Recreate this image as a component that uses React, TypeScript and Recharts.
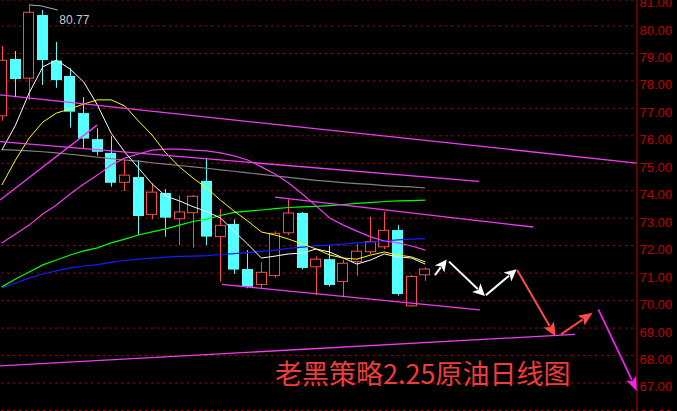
import React from 'react';
import { ComposedChart, Bar, Line, XAxis, YAxis, CartesianGrid, ReferenceLine } from 'recharts';

// ---- candle data (daily) ----
const opens = [76.73, 78.80, 78.10, 80.40, 78.74, 78.18, 76.83, 75.88, 75.38, 74.31, 74.50, 73.14, 73.92, 72.98, 73.20, 74.36, 72.33, 72.79, 71.15, 70.59, 70.91, 72.47, 73.19, 71.23, 71.51, 70.70, 71.42, 71.78, 71.96, 72.57, 69.81, 70.94];
const highs = [79.27, 79.09, 80.77, 80.58, 79.42, 78.46, 77.41, 76.27, 75.99, 75.12, 75.12, 74.27, 74.06, 73.83, 73.85, 75.18, 73.34, 72.96, 71.84, 71.40, 72.53, 73.69, 73.23, 71.61, 72.02, 71.48, 72.07, 73.05, 73.24, 72.75, 70.93, 71.21];
const lows = [76.55, 77.40, 77.31, 77.85, 77.75, 76.30, 75.55, 75.28, 74.15, 73.99, 72.39, 72.96, 72.33, 72.02, 71.93, 72.02, 70.69, 70.97, 70.45, 70.45, 70.83, 72.39, 71.14, 70.20, 70.51, 70.12, 70.90, 71.70, 71.87, 70.18, 69.78, 70.72];
const closes = [78.75, 78.07, 80.50, 78.76, 78.03, 76.88, 75.90, 75.42, 74.29, 74.57, 73.08, 73.95, 73.02, 73.23, 73.80, 72.33, 72.74, 71.13, 70.51, 71.03, 72.45, 73.19, 71.19, 71.51, 70.57, 71.36, 71.80, 72.15, 72.56, 70.24, 70.88, 71.15];

// ---- moving averages ----
const maWhite = [75.48, 76.39, 77.56, 78.51, 78.76, 78.43, 77.96, 77.12, 76.10, 75.41, 74.83, 74.25, 73.81, 73.63, 73.42, 73.24, 73.01, 72.53, 72.06, 71.55, 71.62, 71.70, 71.73, 71.88, 71.77, 71.55, 71.33, 71.48, 71.70, 71.59, 71.55, 71.33];
const maYellow = [74.21, 75.12, 75.92, 76.50, 76.83, 76.98, 77.16, 77.31, 77.31, 77.09, 76.54, 76.03, 75.38, 74.87, 74.46, 74.10, 73.66, 73.26, 72.90, 72.50, 72.39, 72.24, 72.06, 71.88, 71.66, 71.55, 71.51, 71.66, 71.77, 71.66, 71.59, 71.41];
const maMagenta = [72.10, 72.43, 72.75, 73.15, 73.48, 73.88, 74.25, 74.57, 74.94, 75.19, 75.34, 75.48, 75.52, 75.52, 75.48, 75.45, 75.38, 75.27, 75.12, 74.87, 74.61, 74.28, 73.88, 73.45, 73.01, 72.75, 72.53, 72.32, 72.17, 72.10, 71.99, 71.84];
const maGreen = [70.50, 70.79, 71.04, 71.30, 71.48, 71.66, 71.81, 71.92, 72.10, 72.24, 72.39, 72.50, 72.61, 72.75, 72.88, 72.97, 73.10, 73.21, 73.26, 73.30, 73.35, 73.39, 73.41, 73.43, 73.46, 73.50, 73.54, 73.57, 73.61, 73.63, 73.64, 73.66];
const maBlue = [70.46, 70.64, 70.82, 70.97, 71.08, 71.19, 71.26, 71.31, 71.39, 71.46, 71.51, 71.55, 71.58, 71.61, 71.62, 71.64, 71.68, 71.71, 71.75, 71.79, 71.84, 71.90, 71.95, 71.99, 72.02, 72.06, 72.10, 72.13, 72.17, 72.21, 72.24, 72.26];
const maGray = [75.50, 75.48, 75.45, 75.42, 75.38, 75.33, 75.28, 75.22, 75.17, 75.12, 75.08, 75.02, 74.97, 74.92, 74.87, 74.82, 74.76, 74.71, 74.65, 74.60, 74.54, 74.49, 74.43, 74.38, 74.34, 74.30, 74.26, 74.23, 74.19, 74.16, 74.14, 74.10];

// ---- y axis ticks ----
const yTicks = [66, 67, 68, 69, 70, 71, 72, 73, 74, 75, 76, 77, 78, 79, 80, 81];
const TOTAL_SLOTS = 47;

// ---- hand-drawn trend lines: [slotIndex, price] pairs ----
const trendLines = [
  [[-0.13, 77.49], [46.5, 75.01]],
  [[-0.13, 75.79], [34.93, 74.34]],
  [[20.0, 73.77], [38.89, 72.68]],
  [[16.12, 70.59], [35.0, 69.66]],
  [[-0.13, 67.62], [41.96, 68.77]],
  [[-0.13, 73.66], [6.97, 76.39]],
];
const whiteArrows = [
  [[31.71, 70.93], [32.57, 71.50]],
  [[32.74, 71.42], [35.37, 70.17]],
  [[35.44, 70.20], [37.69, 71.14]],
];
const redArrows = [
  [[37.74, 71.11], [40.55, 68.69]],
  [[40.93, 68.77], [43.25, 69.56]],
];
const magentaArrows = [
  [[43.67, 69.68], [46.54, 66.68]],
];
const highMarker = [[2, 80.77], [4.1, 80.58]];
const title = '老黑策略2.25原油日线图';

const RED = '#ff4a4a';
const CYAN = '#54ffff';
const MAG = '#f03cf0';

const data = Array.from({ length: TOTAL_SLOTS }, (_, i) =>
  i < opens.length
    ? {
        i,
        range: [lows[i], highs[i]],
        o: opens[i],
        h: highs[i],
        l: lows[i],
        c: closes[i],
        w: maWhite[i],
        y: maYellow[i],
        m: maMagenta[i],
        g: maGreen[i],
        b: maBlue[i],
        gr: maGray[i],
      }
    : { i }
);

const Candle = (props: any) => {
  const { x, y, width, height, payload } = props;
  if (!payload || payload.o == null) return null;
  const { o, h, l, c } = payload;
  const top = Math.min(y, y + height);
  const hh = Math.abs(height);
  const k = h - l === 0 ? 0 : hh / (h - l);
  const yO = top + (h - o) * k;
  const yC = top + (h - c) * k;
  const bTop = Math.min(yO, yC);
  const bBot = Math.max(yO, yC);
  const cx = Math.round(x + width / 2) + 0.5;
  const left = Math.round(x) + 0.5;
  const bw = Math.round(width) - 1;
  const up = c >= o;
  if (up) {
    return (
      <g>
        <line x1={cx} y1={top} x2={cx} y2={bTop} stroke={RED} strokeWidth={1} />
        <line x1={cx} y1={bBot} x2={cx} y2={top + hh} stroke={RED} strokeWidth={1} />
        <rect x={left} y={bTop} width={bw} height={Math.max(1, bBot - bTop)} fill="#000" stroke={RED} strokeWidth={1} />
      </g>
    );
  }
  return (
    <g>
      <line x1={cx} y1={top} x2={cx} y2={top + hh} stroke={CYAN} strokeWidth={1} />
      <rect x={left - 0.5} y={bTop} width={bw + 1} height={Math.max(1, bBot - bTop)} fill={CYAN} />
    </g>
  );
};

const arrowShape = (color: string, w: number, headL: number, headW: number) => (props: any) => {
  const { x1, y1, x2, y2 } = props;
  if ([x1, y1, x2, y2].some((v) => v == null || isNaN(v))) return <g />;
  const dx = x2 - x1;
  const dy = y2 - y1;
  const len = Math.hypot(dx, dy) || 1;
  const ux = dx / len;
  const uy = dy / len;
  const nx = -uy;
  const ny = ux;
  const bx = x2 - ux * headL;
  const by = y2 - uy * headL;
  return (
    <g>
      <line x1={x1} y1={y1} x2={bx + ux * 2} y2={by + uy * 2} stroke={color} strokeWidth={w} />
      <polygon
        points={`${x2},${y2} ${bx + nx * headW},${by + ny * headW} ${bx + ux * 3},${by + uy * 3} ${bx - nx * headW},${by - ny * headW}`}
        fill={color}
      />
    </g>
  );
};

const trendShape = (props: any) => {
  const { x1, y1, x2, y2 } = props;
  return <line x1={x1} y1={y1} x2={x2} y2={y2} stroke={MAG} strokeWidth={1.3} />;
};

const markerShape = (props: any) => {
  const { x1, y1, x2, y2 } = props;
  return (
    <g>
      <polyline points={`${x1},${y1} ${x1 + 12},${y1 + 1} ${x2},${y2}`} fill="none" stroke="#b0b0b0" strokeWidth={1} />
      <text x={x2 + 1.5} y={y2 + 13.5} fill="#c8c8d0" fontSize={13} fontFamily="'Liberation Sans', Arial, sans-serif" textLength={30} lengthAdjust="spacingAndGlyphs">
        {highs[2].toFixed(2)}
      </text>
    </g>
  );
};

const YTick = (props: any) => {
  const { y, payload } = props;
  return (
    <text x={639.5} y={y + 8.5} fill="#c00000" fontSize={13} fontFamily="'Liberation Sans', Arial, sans-serif" textAnchor="start">
      {Number(payload.value).toFixed(2)}
    </text>
  );
};

const seg = (s: number[][]) => [
  { x: s[0][0], y: s[0][1] },
  { x: s[1][0], y: s[1][1] },
];

const HALF_SLOT = 642 / TOTAL_SLOTS / 2;

export default function App() {
  return (
    <div style={{ position: 'absolute', left: 0, top: 0, width: 677, height: 411, background: '#000', overflow: 'hidden' }}>
      <ComposedChart width={677} height={411} data={data} margin={{ top: 0, right: 0, bottom: 0, left: -5 }} style={{ background: '#000' }}>
        <CartesianGrid horizontal vertical={false} stroke="#b80000" strokeDasharray="2 4" />
        <XAxis dataKey="i" type="category" hide />
        <XAxis
          xAxisId="n"
          dataKey="i"
          type="number"
          domain={[0, TOTAL_SLOTS - 1]}
          padding={{ left: HALF_SLOT, right: HALF_SLOT }}
          allowDataOverflow
          hide
        />
        <YAxis
          orientation="right"
          width={40}
          domain={[65.98, 80.947]}
          allowDataOverflow
          ticks={yTicks}
          interval={0}
          tickLine={false}
          axisLine={{ stroke: '#c00000' }}
          tick={<YTick />}
        />
        <Bar dataKey="range" barSize={11} shape={<Candle />} activeBar={false} isAnimationActive={false} />
        <Line dataKey="gr" stroke="#808080" strokeWidth={1.2} dot={false} activeDot={false} isAnimationActive={false} />
        <Line dataKey="b" stroke="#1a1aff" strokeWidth={1.2} dot={false} activeDot={false} isAnimationActive={false} />
        <Line dataKey="g" stroke="#00ff00" strokeWidth={1.2} dot={false} activeDot={false} isAnimationActive={false} />
        <Line dataKey="m" stroke={MAG} strokeWidth={1.2} dot={false} activeDot={false} isAnimationActive={false} />
        <Line dataKey="y" stroke="#ffff00" strokeWidth={1} dot={false} activeDot={false} isAnimationActive={false} />
        <Line dataKey="w" stroke="#ffffff" strokeWidth={1} dot={false} activeDot={false} isAnimationActive={false} />
        {trendLines.map((s, k) => (
          <ReferenceLine key={'t' + k} xAxisId="n" ifOverflow="visible" segment={seg(s)} shape={trendShape} />
        ))}
        {whiteArrows.map((s, k) => (
          <ReferenceLine key={'w' + k} xAxisId="n" ifOverflow="visible" segment={seg(s)} shape={arrowShape('#ffffff', 2, 12, 6)} />
        ))}
        {redArrows.map((s, k) => (
          <ReferenceLine key={'r' + k} xAxisId="n" ifOverflow="visible" segment={seg(s)} shape={arrowShape(RED, 2, 14, 6)} />
        ))}
        {magentaArrows.map((s, k) => (
          <ReferenceLine key={'m' + k} xAxisId="n" ifOverflow="visible" segment={seg(s)} shape={arrowShape('#ee22ee', 1.8, 15, 5.5)} />
        ))}
        <ReferenceLine xAxisId="n" ifOverflow="visible" segment={seg(highMarker)} shape={markerShape} />
      </ComposedChart>
      <div
        style={{
          position: 'absolute',
          left: 275,
          top: 355,
          fontSize: 27,
          lineHeight: '36px',
          color: '#f03c3c',
          fontFamily: "'Noto Sans CJK SC', 'Noto Sans', sans-serif",
          whiteSpace: 'nowrap',
        }}
      >
        {title}
      </div>
    </div>
  );
}
